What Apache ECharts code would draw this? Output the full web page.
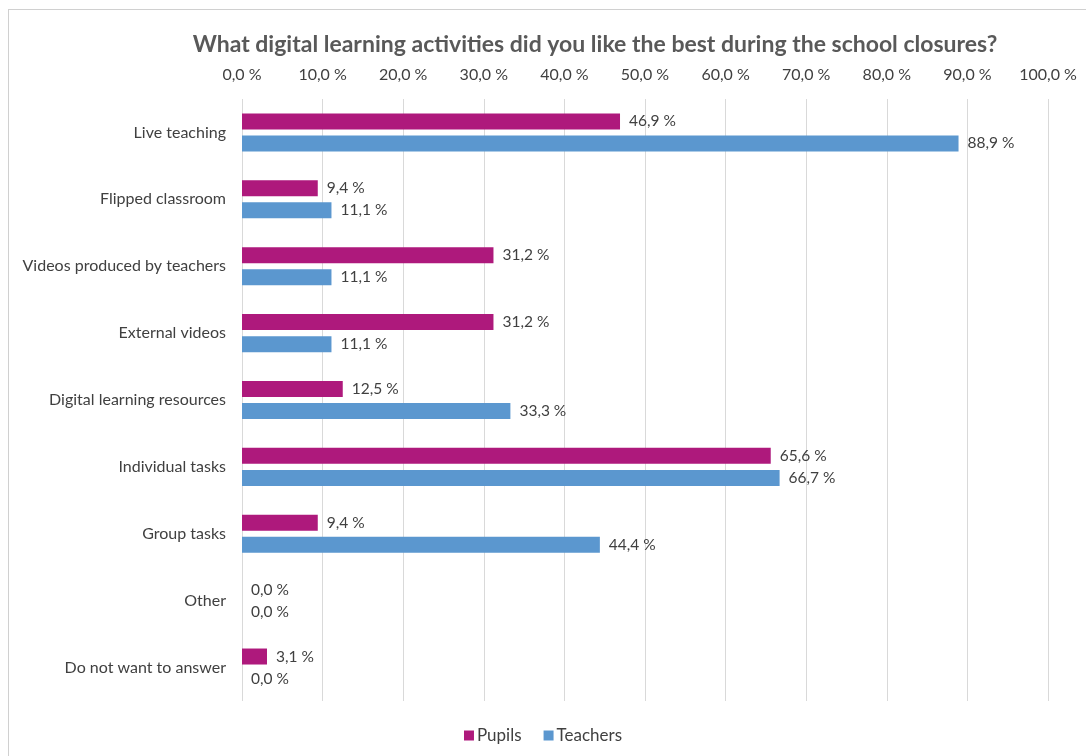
<!DOCTYPE html>
<html>
<head>
<meta charset="utf-8">
<script src="https://cdn.jsdelivr.net/npm/echarts@6/dist/echarts.min.js"></script>
<style>
  html, body { margin: 0; padding: 0; background: #fff; }
  #frame { position: absolute; left: 8px; top: 9px; width: 1100px; height: 760px; border-left: 1px solid #d0d0d0; border-top: 1px solid #d0d0d0; }
  #chart { position: absolute; left: 0; top: 0; width: 1086px; height: 756px; }
</style>
</head>
<body>
<div id="frame"></div>
<div id="chart"></div>
<script>
// Survey answers, share of respondents (%)
const categories = [
  'Live teaching',
  'Flipped classroom',
  'Videos produced by teachers',
  'External videos',
  'Digital learning resources',
  'Individual tasks',
  'Group tasks',
  'Other',
  'Do not want to answer'
];
const pupils   = [46.9, 9.4, 31.2, 31.2, 12.5, 65.6, 9.4, 0.0, 3.1];
const teachers = [88.9, 11.1, 11.1, 11.1, 33.3, 66.7, 44.4, 0.0, 0.0];
const seriesNames = ['Pupils', 'Teachers'];

const FONT = 'Lato, "Open Sans", sans-serif';
const pct = v => v.toFixed(1).replace('.', ',') + ' %';

const chart = echarts.init(document.getElementById('chart'), null, { renderer: 'canvas' });

const labelStyle = {
  show: true,
  position: 'right',
  distance: 9,
  color: '#404040',
  fontSize: 15.5,
  fontFamily: FONT,
  formatter: p => pct(p.value)
};

chart.setOption({
  animation: false,
  textStyle: { fontFamily: FONT },
  title: {
    text: 'What digital learning activities did you like the best during the school closures?',
    left: 590,
    textAlign: 'center',
    top: 28,
    textStyle: { fontSize: 23, fontWeight: 'bold', color: '#595959', fontFamily: FONT }
  },
  legend: {
    data: seriesNames,
    bottom: 7,
    left: 'center',
    itemWidth: 10,
    itemHeight: 10,
    itemGap: 22,
    icon: 'rect',
    textStyle: { fontSize: 17, color: '#404040', fontFamily: FONT, padding: [0, 0, 0, -2] }
  },
  grid: { left: 242, right: 38, top: 99, bottom: 55, containLabel: false },
  xAxis: {
    type: 'value',
    position: 'top',
    min: 0,
    max: 100,
    interval: 10,
    axisLine: { show: false },
    axisTick: { show: false },
    axisLabel: { color: '#404040', fontSize: 16, margin: 16, formatter: v => pct(v), fontFamily: FONT },
    splitLine: { lineStyle: { color: '#d9d9d9', width: 1 } }
  },
  yAxis: {
    type: 'category',
    inverse: true,
    data: categories,
    axisLine: { show: false },
    axisTick: { show: false },
    axisLabel: { color: '#404040', fontSize: 16, margin: 16, fontFamily: FONT }
  },
  series: [
    {
      name: seriesNames[0],
      type: 'bar',
      data: pupils,
      barWidth: 16,
      barGap: '38%',
      itemStyle: { color: '#AE197C' },
      label: labelStyle
    },
    {
      name: seriesNames[1],
      type: 'bar',
      data: teachers,
      barWidth: 16,
      barGap: '38%',
      itemStyle: { color: '#5B97CF' },
      label: labelStyle
    }
  ]
});
</script>
</body>
</html>
